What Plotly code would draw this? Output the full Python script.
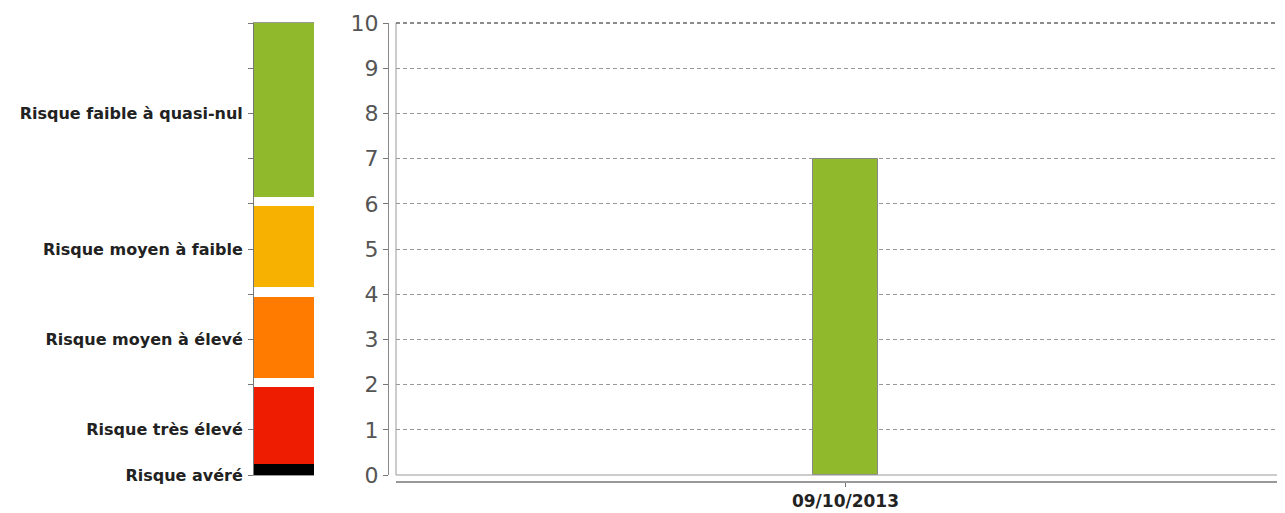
import plotly.graph_objects as go

# Risk scale bands (left colour bar)
band_names = ["Risque avéré", "Risque très élevé", "Risque moyen à élevé", "Risque moyen à faible", "Risque faible à quasi-nul"]
band_low = [0, 0.24, 2.15, 4.15, 6.16]
band_high = [0.24, 1.94, 3.94, 5.95, 10]
band_colors = ["#000000", "#EE1C00", "#FF7B00", "#F7B100", "#90BA2B"]

scale_tickvals = [0, 1, 2, 3, 4, 5, 6, 7, 8, 9, 10]
scale_ticktext = ["Risque avéré", "Risque très élevé", "", "Risque moyen à élevé", "",
                  "Risque moyen à faible", "", "", "Risque faible à quasi-nul", "", ""]

# Main chart data
dates = ["09/10/2013"]
values = [7]
bar_color = "#90BA2B"

# page body margin offset (figure is drawn 8px from the window corner)
OFF = 8
W, H = 1285 - OFF, 513 - OFF
fig = go.Figure()

for name, lo, hi, c in zip(band_names, band_low, band_high, band_colors):
    fig.add_trace(go.Bar(x=["scale"], y=[hi - lo], base=[lo], marker=dict(color=c, line=dict(width=0)),
                         width=1, xaxis="x", yaxis="y", showlegend=False, hoverinfo="skip", name=name))

fig.add_trace(go.Bar(x=dates, y=values, width=0.0731, marker=dict(color=bar_color, line=dict(color="#888888", width=1)),
                     xaxis="x2", yaxis="y2", showlegend=False))

font = "DejaVu Sans"


def px(x):
    return (x - OFF) / W


def py(y):
    return 1 - (y - OFF) / H


x1d = [px(254), px(314)]
x2d = [px(396), 1.0]
yd = [py(475), py(23)]
grid_dash = "4px,3px"

fig.update_layout(
    width=W, height=H,
    margin=dict(l=0, r=0, t=0, b=0, autoexpand=False),
    paper_bgcolor="white", plot_bgcolor="white",
    barmode="overlay", bargap=0,
    xaxis=dict(domain=x1d, range=[-0.5, 0.5], showticklabels=False, showgrid=False, zeroline=False,
               showline=True, linecolor="#999999", linewidth=1, mirror=True, ticks="", anchor="y",
               automargin=False, fixedrange=True),
    yaxis=dict(domain=yd, range=[0, 10], tickvals=scale_tickvals, ticktext=scale_ticktext,
               ticks="outside", ticklen=5, tickcolor="#777777", showgrid=False, zeroline=False,
               showline=True, linecolor="#777777", linewidth=1, ticklabelstandoff=2,
               tickfont=dict(family=font, size=16, color="#222222", weight="bold"), anchor="x",
               automargin=False),
    xaxis2=dict(domain=x2d, range=[-0.5056, 0.4944], type="category", anchor="free", position=py(482),
                showline=True, linecolor="#999999", linewidth=2, ticks="outside", ticklen=4, tickcolor="#777777",
                showgrid=False, zeroline=False, automargin=False,
                tickfont=dict(family=font, size=17, color="#222222", weight="bold")),
    yaxis2=dict(domain=yd, range=[0, 10], dtick=1, anchor="free", position=px(388),
                ticks="outside", ticklen=5, tickcolor="#777777", showline=True, linecolor="#888888", linewidth=1,
                showgrid=True, gridcolor="#999999", griddash=grid_dash, gridwidth=1, zeroline=False,
                automargin=False, tickfont=dict(family=font, size=22, color="#555555")),
    shapes=[
        dict(type="line", xref="paper", yref="paper", x0=x2d[0], x1=x2d[0], y0=yd[0], y1=yd[1],
             line=dict(color="#999999", width=1)),
        dict(type="line", xref="paper", yref="paper", x0=x2d[0], x1=1, y0=yd[0], y1=yd[0],
             line=dict(color="#999999", width=1)),
        dict(type="line", xref="paper", yref="paper", x0=x2d[0], x1=1, y0=yd[1], y1=yd[1],
             line=dict(color="#666666", width=1.5, dash=grid_dash)),
    ],
)

fig.write_html("out.html")
